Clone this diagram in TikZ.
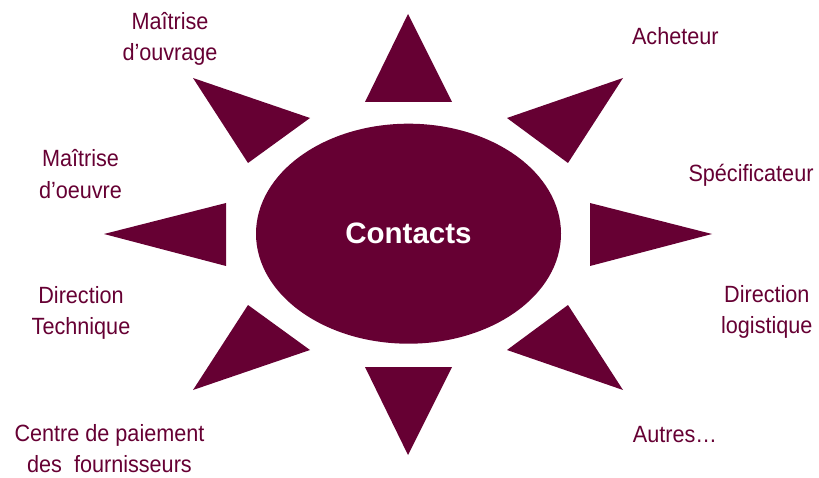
\documentclass[tikz,border=0pt]{standalone}
\usepackage{fontspec}
\setmainfont{Liberation Sans}
\newfontfamily\labelfont{Liberation Sans}[FakeStretch=0.92]
\usetikzlibrary{shapes.geometric}
\definecolor{maroon}{HTML}{660033}
\tikzset{
  ray/.style={fill=maroon},
  lbl/.style={text=maroon, align=center, inner sep=0pt, anchor=base,
    font=\labelfont\fontsize{23.5}{31.5}\selectfont},
  core/.style={ellipse, fill=maroon, minimum width=305pt, minimum height=220pt,
    inner sep=0pt, text=white, font=\bfseries\fontsize{29.5}{34}\selectfont}
}
\begin{document}
\begin{tikzpicture}[x=1pt,y=-1pt]
\useasboundingbox (0,0) rectangle (819,478);
% centre
\node[core] (c) at (408.5,233.7) {Contacts};
% rays
\fill[ray] (408,14) -- (452,102) -- (365,102) -- cycle;
\fill[ray] (408,455) -- (452,367) -- (365,367) -- cycle;
\fill[ray] (104,234) -- (226,203) -- (226,266) -- cycle;
\fill[ray] (712,234) -- (590,203) -- (590,266) -- cycle;
\fill[ray] (193,78) -- (310,118) -- (248,163) -- cycle;
\fill[ray] (623,78) -- (507,118) -- (568,163) -- cycle;
\fill[ray] (193,390) -- (310,350) -- (248,305) -- cycle;
\fill[ray] (623,390) -- (507,350) -- (568,305) -- cycle;
% labels (two-line labels anchored at the baseline of their last line)
\node[lbl] (mo) at (170,61) {Maîtrise\\d’ouvrage};
\node[lbl] (ach) at (675.3,45) {Acheteur};
\node[lbl] (moe) at (80.5,198.3) {Maîtrise\\d’oeuvre};
\node[lbl] (spe) at (751,181.7) {Spécificateur};
\node[lbl] (dt) at (81,334.5) {Direction\\Technique};
\node[lbl] (dl) at (766.8,334) {Direction\\logistique};
\node[lbl] (cp) at (109.5,472.7) {Centre de paiement\\des~~fournisseurs};
\node[lbl] (aut) at (675,442.3) {Autres…};
\end{tikzpicture}
\end{document}
